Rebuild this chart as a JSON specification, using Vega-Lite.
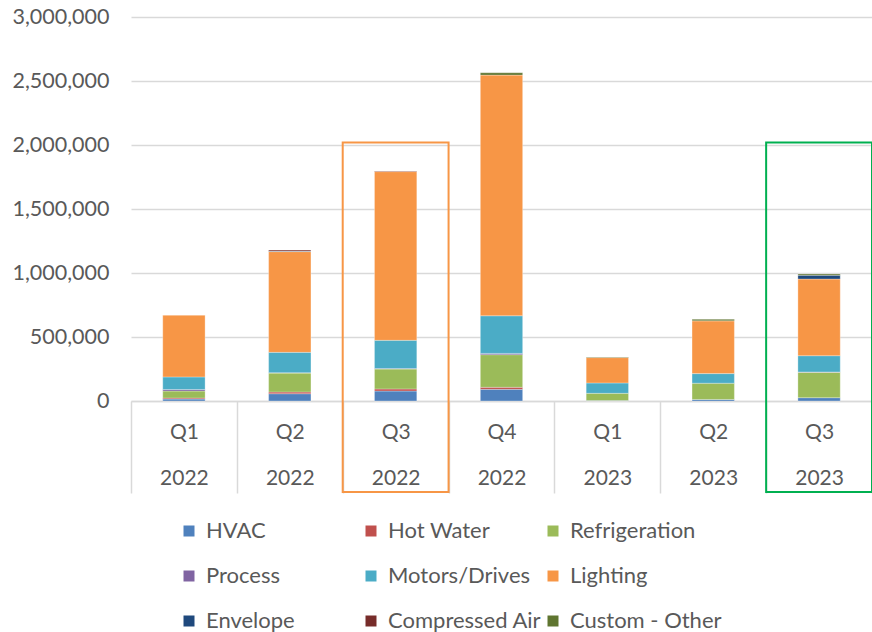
{
  "$schema": "https://vega.github.io/schema/vega-lite/v6.json",
  "width": 741,
  "height": 384,
  "autosize": "none",
  "padding": {"left": 131, "top": 17, "right": 0, "bottom": 231},
  "background": "white",
  "config": {
    "font": "Lato",
    "view": {"stroke": null}
  },
  "datasets": {
    "bars": [
      {"key": "Q1|2022", "cat": "HVAC", "o": 1, "v": 15000},
      {"key": "Q1|2022", "cat": "Hot Water", "o": 2, "v": 8000},
      {"key": "Q1|2022", "cat": "Refrigeration", "o": 3, "v": 55000},
      {"key": "Q1|2022", "cat": "Process", "o": 4, "v": 12000},
      {"key": "Q1|2022", "cat": "Motors/Drives", "o": 5, "v": 98000},
      {"key": "Q1|2022", "cat": "Lighting", "o": 6, "v": 482000},
      {"key": "Q2|2022", "cat": "HVAC", "o": 1, "v": 57000},
      {"key": "Q2|2022", "cat": "Hot Water", "o": 2, "v": 13000},
      {"key": "Q2|2022", "cat": "Refrigeration", "o": 3, "v": 148000},
      {"key": "Q2|2022", "cat": "Process", "o": 4, "v": 3000},
      {"key": "Q2|2022", "cat": "Motors/Drives", "o": 5, "v": 159000},
      {"key": "Q2|2022", "cat": "Lighting", "o": 6, "v": 787000},
      {"key": "Q2|2022", "cat": "Envelope", "o": 7, "v": 5000},
      {"key": "Q2|2022", "cat": "Compressed Air", "o": 8, "v": 8000},
      {"key": "Q3|2022", "cat": "HVAC", "o": 1, "v": 78000},
      {"key": "Q3|2022", "cat": "Hot Water", "o": 2, "v": 16000},
      {"key": "Q3|2022", "cat": "Refrigeration", "o": 3, "v": 156000},
      {"key": "Q3|2022", "cat": "Process", "o": 4, "v": 3000},
      {"key": "Q3|2022", "cat": "Motors/Drives", "o": 5, "v": 221000},
      {"key": "Q3|2022", "cat": "Lighting", "o": 6, "v": 1318000},
      {"key": "Q3|2022", "cat": "Compressed Air", "o": 8, "v": 4000},
      {"key": "Q4|2022", "cat": "HVAC", "o": 1, "v": 91000},
      {"key": "Q4|2022", "cat": "Hot Water", "o": 2, "v": 16000},
      {"key": "Q4|2022", "cat": "Refrigeration", "o": 3, "v": 255000},
      {"key": "Q4|2022", "cat": "Process", "o": 4, "v": 10000},
      {"key": "Q4|2022", "cat": "Motors/Drives", "o": 5, "v": 294000},
      {"key": "Q4|2022", "cat": "Lighting", "o": 6, "v": 1880000},
      {"key": "Q4|2022", "cat": "Custom - Other", "o": 9, "v": 18000},
      {"key": "Q1|2023", "cat": "HVAC", "o": 1, "v": 3000},
      {"key": "Q1|2023", "cat": "Refrigeration", "o": 3, "v": 57000},
      {"key": "Q1|2023", "cat": "Motors/Drives", "o": 5, "v": 81000},
      {"key": "Q1|2023", "cat": "Lighting", "o": 6, "v": 198000},
      {"key": "Q1|2023", "cat": "Custom - Other", "o": 9, "v": 5000},
      {"key": "Q2|2023", "cat": "HVAC", "o": 1, "v": 12000},
      {"key": "Q2|2023", "cat": "Refrigeration", "o": 3, "v": 127000},
      {"key": "Q2|2023", "cat": "Motors/Drives", "o": 5, "v": 75000},
      {"key": "Q2|2023", "cat": "Lighting", "o": 6, "v": 412000},
      {"key": "Q2|2023", "cat": "Custom - Other", "o": 9, "v": 12000},
      {"key": "Q3|2023", "cat": "HVAC", "o": 1, "v": 26000},
      {"key": "Q3|2023", "cat": "Refrigeration", "o": 3, "v": 198000},
      {"key": "Q3|2023", "cat": "Process", "o": 4, "v": 3000},
      {"key": "Q3|2023", "cat": "Motors/Drives", "o": 5, "v": 127000},
      {"key": "Q3|2023", "cat": "Lighting", "o": 6, "v": 599000},
      {"key": "Q3|2023", "cat": "Envelope", "o": 7, "v": 29000},
      {"key": "Q3|2023", "cat": "Custom - Other", "o": 9, "v": 10000}
    ],
    "boxes": [
      {"key": "Q3|2022", "top": 2020000, "bottom": -710000, "col": "#f79646"},
      {"key": "Q3|2023", "top": 2020000, "bottom": -710000, "col": "#00b050"}
    ]
  },
  "layer": [
    {
      "data": {"name": "bars"},
      "mark": {"type": "bar", "width": {"band": 0.4}, "stroke": "white", "strokeWidth": 0.5, "strokeOpacity": 0.6},
      "encoding": {
        "x": {
          "field": "key", "type": "nominal", "sort": null,
          "scale": {"domain": ["Q1|2022", "Q2|2022", "Q3|2022", "Q4|2022", "Q1|2023", "Q2|2023", "Q3|2023"], "paddingInner": 0, "paddingOuter": 0},
          "axis": {
            "title": null,
            "labelAngle": 0,
            "labelExpr": "isValid(datum.value) ? split(datum.value, '|') : ''",
            "labelLineHeight": 46,
            "labelFontSize": 21,
            "labelColor": "#595959",
            "labelPadding": -61,
            "labelBaseline": "middle",
            "tickBand": "extent",
            "tickSize": 92,
            "tickColor": "#d9d9d9",
            "tickWidth": 1.5,
            "domainColor": "#d9d9d9",
            "domainWidth": 1.5
          }
        },
        "y": {
          "field": "v", "type": "quantitative", "stack": "zero",
          "scale": {"domain": [0, 3000000], "nice": false},
          "axis": {
            "title": null,
            "values": [0, 500000, 1000000, 1500000, 2000000, 2500000, 3000000],
            "format": ",d",
            "labelFontSize": 21.5,
            "labelColor": "#595959",
            "labelPadding": 22,
            "ticks": false,
            "domain": false,
            "gridColor": "#d9d9d9",
            "gridWidth": 1.5
          }
        },
        "color": {
          "field": "cat", "type": "nominal",
          "scale": {
            "domain": ["HVAC", "Hot Water", "Refrigeration", "Process", "Motors/Drives", "Lighting", "Envelope", "Compressed Air", "Custom - Other"],
            "range": ["#4f81bd", "#c0504d", "#9bbb59", "#8064a2", "#4bacc6", "#f79646", "#1f497d", "#772c2a", "#5f7530"]
          },
          "legend": {
            "title": null,
            "orient": "none",
            "legendX": 47,
            "legendY": 503,
            "direction": "horizontal",
            "columns": 3,
            "gridAlign": "all",
            "symbolType": "square",
            "symbolSize": 121,
            "symbolStrokeWidth": 0,
            "labelFontSize": 22,
            "labelColor": "#595959",
            "labelOffset": 6,
            "columnPadding": -3,
            "rowPadding": 23,
            "labelLimit": 200
          }
        },
        "order": {"field": "o", "type": "quantitative"}
      }
    },
    {
      "data": {"name": "boxes"},
      "mark": {"type": "rect", "fill": null, "strokeWidth": 2, "clip": false},
      "encoding": {
        "x": {"field": "key", "type": "nominal"},
        "y": {"field": "top", "type": "quantitative"},
        "y2": {"field": "bottom"},
        "stroke": {"field": "col", "type": "nominal", "scale": null}
      }
    }
  ]
}
